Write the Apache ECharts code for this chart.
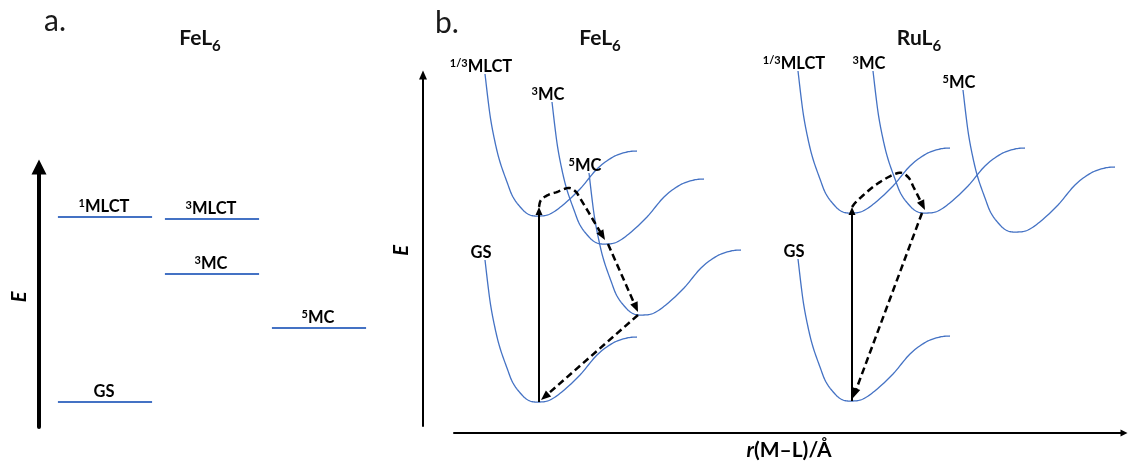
<!DOCTYPE html>
<html>
<head>
<meta charset="utf-8">
<script src="https://cdn.jsdelivr.net/npm/echarts@6/dist/echarts.min.js"></script>
<style>
  html, body { margin: 0; padding: 0; background: #fff; }
  #chart { width: 1130px; height: 461px; }
</style>
</head>
<body>
<div id="chart"></div>
<script>
// ---------- (a) FeL6 energy levels ----------
const levelColumns = ['MLCT / GS', 'triplet', 'quintet'];
const levelSpin = ['1', '', '3', '3', '5'];
const levelName = ['MLCT', 'GS', 'MLCT', 'MC', 'MC'];
const levelColumn = [0, 0, 1, 1, 2];
const levelEnergy = [210, 25, 208, 153, 99];

// ---------- (b) potential energy wells ----------
// shape of one well, relative to its minimum (dr, dE)
const wellDr = [-55, -50, -45, -40, -33, -27, -18, -10, 0, 10, 23, 40, 57, 73, 87, 97];
const wellDE = [142, 101, 74, 54, 34, 19, 7, 1, 0, 2, 11, 27, 47, 59, 64, 65];

const stateName = ['GS', 'MLCT', 'MC', 'MC'];
const stateSpin = ['', '1/3', '3', '5'];
// equilibrium distance and minimum energy of each state
const feMinR = [86, 86, 153, 190];
const feMinE = [31, 217, 189, 118];
const ruMinR = [399, 399, 474, 564];
const ruMinE = [32, 220, 220, 201];

// excitation / relaxation pathways, as (r, E) points
const feAbsorption = [[85, 31], [85, 226]];
const feToTriplet = [[85, 226], [87, 233], [94, 238], [103, 241], [114, 245], [121, 242], [126, 235], [151, 193]];
const feToQuintet = [[154, 189], [184, 121]];
const feToGround = [[184, 118], [87, 33]];
const ruAbsorption = [[398, 32], [398, 226]];
const ruToTriplet = [[398, 226], [404, 233], [423, 249], [444, 260], [454, 256], [460, 245], [471, 223]];
const ruToGround = [[468, 220], [399, 35]];

const pathways = [feAbsorption, feToTriplet, feToQuintet, feToGround, ruAbsorption, ruToTriplet, ruToGround];
const pathwayDashed = [false, true, true, true, false, true, true];

const FONT = 'Lato, "Open Sans", sans-serif';
const BLUE = '#4472C4';
const INK = '#000';

const stateRich = {
  sup: { fontFamily: FONT, fontWeight: 'bold', fontSize: 11, verticalAlign: 'top', fill: INK },
  m: { fontFamily: FONT, fontWeight: 'bold', fontSize: 16.5, fill: INK }
};
function stateText(spin, name) {
  return (spin ? '{sup|' + spin + '}' : '') + '{m|' + name + '}';
}

const formulaRich = {
  m: { fontFamily: FONT, fontWeight: 'bold', fontSize: 21, color: '#111', verticalAlign: 'top' },
  s: { fontFamily: FONT, fontWeight: 'bold', fontSize: 15, color: '#111', verticalAlign: 'bottom', lineHeight: 26 }
};
const panelLetterStyle = { fontFamily: FONT, fontSize: 30, fontWeight: 'normal', color: '#1a1a1a' };
const axisNameStyle = { fontFamily: FONT, fontWeight: 'bold', fontStyle: 'italic', fontSize: 20, color: INK };

// Catmull-Rom curve through pixel points, sampled as a dense polyline
function splinePoints(pts) {
  if (pts.length < 3) return pts.slice();
  const out = [pts[0]];
  const steps = 10;
  for (let i = 0; i < pts.length - 1; i++) {
    const p0 = pts[i - 1] || pts[i], p1 = pts[i], p2 = pts[i + 1], p3 = pts[i + 2] || pts[i + 1];
    const c1 = [p1[0] + (p2[0] - p0[0]) / 6, p1[1] + (p2[1] - p0[1]) / 6];
    const c2 = [p2[0] - (p3[0] - p1[0]) / 6, p2[1] - (p3[1] - p1[1]) / 6];
    for (let s = 1; s <= steps; s++) {
      const t = s / steps, u = 1 - t;
      const a = u * u * u, b = 3 * u * u * t, c = 3 * u * t * t, d = t * t * t;
      out.push([a * p1[0] + b * c1[0] + c * c2[0] + d * p2[0],
                a * p1[1] + b * c1[1] + c * c2[1] + d * p2[1]]);
    }
  }
  return out;
}

// horizontal level with its label
function renderLevel(params, api) {
  const i = params.dataIndex;
  const c = api.coord([api.value(0), api.value(1)]);
  const half = api.size([1, 0])[0] * 0.44;
  return {
    type: 'group',
    children: [
      { type: 'line', shape: { x1: c[0] - half, y1: c[1], x2: c[0] + half, y2: c[1] },
        style: { stroke: BLUE, lineWidth: 2 } },
      { type: 'text', x: c[0] - 1, y: c[1] - 2,
        style: { text: stateText(levelSpin[i], levelName[i]), rich: stateRich, align: 'center', verticalAlign: 'bottom' } }
    ]
  };
}

// one potential well: the common profile placed at (r_e, E_min), with its state name
function renderWell(params, api) {
  const r0 = api.value(0), e0 = api.value(1), k = api.value(2);
  const pts = wellDr.map(function (d, j) { return api.coord([r0 + d, e0 + wellDE[j]]); });
  const top = pts[0];
  return {
    type: 'group',
    children: [
      { type: 'polyline', shape: { points: splinePoints(pts) },
        style: { stroke: BLUE, fill: null, lineWidth: 1.3 } },
      { type: 'text', x: top[0] - 4, y: top[1] + 1, z2: 10,
        style: { text: stateText(stateSpin[k], stateName[k]), rich: stateRich, align: 'center', verticalAlign: 'bottom' } }
    ]
  };
}

// arrow along a pathway, head at the last point
function renderPathway(params, api) {
  const i = params.dataIndex;
  const dashed = pathwayDashed[i];
  const pts = pathways[i].map(function (p) { return api.coord(p); });
  const n = pts.length;
  const tip = pts[n - 1], prev = pts[n - 2];
  const dx = tip[0] - prev[0], dy = tip[1] - prev[1];
  const len = Math.sqrt(dx * dx + dy * dy);
  const ux = dx / len, uy = dy / len;
  const headLen = dashed ? 10 : 8;
  const headHalf = dashed ? 4 : 3.5;
  const base = [tip[0] - ux * headLen, tip[1] - uy * headLen];
  const left = [base[0] - uy * headHalf, base[1] + ux * headHalf];
  const right = [base[0] + uy * headHalf, base[1] - ux * headHalf];
  const shaft = pts.slice(0, n - 1).concat([[tip[0] - ux * (headLen - 2), tip[1] - uy * (headLen - 2)]]);
  return {
    type: 'group',
    children: [
      { type: 'polyline', shape: { points: splinePoints(shaft) },
        style: { stroke: INK, fill: null, lineWidth: dashed ? 2.5 : 2, lineDash: dashed ? [7, 4] : null } },
      { type: 'polygon', shape: { points: [tip, left, right] }, style: { fill: INK } }
    ]
  };
}

const wellData = [];
for (let k = 0; k < stateName.length; k++) {
  wellData.push([feMinR[k], feMinE[k], k]);
  wellData.push([ruMinR[k], ruMinE[k], k]);
}

const noAxisParts = {
  axisTick: { show: false }, axisLabel: { show: false }, splitLine: { show: false }
};

const chart = echarts.init(document.getElementById('chart'), null, { renderer: 'canvas' });
chart.setOption({
  animation: false,
  backgroundColor: '#fff',
  title: [
    { text: 'a.', left: 44, top: 6, padding: 0, textStyle: panelLetterStyle },
    { text: 'b.', left: 435, top: 8, padding: 0, textStyle: panelLetterStyle },
    { text: '{m|FeL}{s|6}', left: 200, top: 28, padding: 0, textAlign: 'center', textStyle: { rich: formulaRich } },
    { text: '{m|FeL}{s|6}', left: 600, top: 28, padding: 0, textAlign: 'center', textStyle: { rich: formulaRich } },
    { text: '{m|RuL}{s|6}', left: 919, top: 28, padding: 0, textAlign: 'center', textStyle: { rich: formulaRich } }
  ],
  grid: [
    { left: 51.5, width: 321, top: 167, bottom: 34, containLabel: false, outerBoundsMode: 'none' },
    { left: 454, right: 6, top: 71, bottom: 28, containLabel: false, outerBoundsMode: 'none' },
    { left: 423, width: 10, top: 75, bottom: 35, containLabel: false, outerBoundsMode: 'none' }
  ],
  xAxis: [
    Object.assign({ gridIndex: 0, type: 'category', data: levelColumns, show: false }, noAxisParts),
    Object.assign({
      gridIndex: 1, type: 'value', min: 0, max: 670,
      axisLine: { show: true, onZero: false, symbol: ['none', 'triangle'], symbolSize: [7, 7],
                  lineStyle: { color: INK, width: 2 } },
      name: '{i|r}{b|(M–L)/Å}', nameLocation: 'middle', nameGap: 7,
      nameTextStyle: { rich: {
        i: { fontFamily: FONT, fontWeight: 'bold', fontStyle: 'italic', fontSize: 21, color: INK },
        b: { fontFamily: FONT, fontWeight: 'bold', fontSize: 21, color: INK }
      } }
    }, noAxisParts),
    Object.assign({ gridIndex: 2, type: 'value', min: 0, max: 1, show: false }, noAxisParts)
  ],
  yAxis: [
    Object.assign({
      gridIndex: 0, type: 'value', min: 0, max: 260, offset: 12.5,
      axisLine: { show: true, onZero: false, symbol: ['none', 'triangle'], symbolSize: [15, 15],
                  lineStyle: { color: INK, width: 4 } },
      name: 'E', nameLocation: 'middle', nameGap: 9, nameTextStyle: axisNameStyle
    }, noAxisParts),
    Object.assign({ gridIndex: 1, type: 'value', min: 0, max: 362, show: false }, noAxisParts),
    Object.assign({
      gridIndex: 2, type: 'value', min: 0, max: 1,
      axisLine: { show: true, onZero: false, symbol: ['none', 'triangle'], symbolSize: [8, 9],
                  lineStyle: { color: INK, width: 2 } },
      name: 'E', nameLocation: 'middle', nameGap: 11, nameTextStyle: axisNameStyle
    }, noAxisParts)
  ],
  series: [
    {
      type: 'custom', xAxisIndex: 0, yAxisIndex: 0, silent: true,
      renderItem: renderLevel,
      data: levelColumn.map(function (c, i) { return [c, levelEnergy[i]]; })
    },
    {
      type: 'custom', xAxisIndex: 1, yAxisIndex: 1, silent: true, z: 3,
      renderItem: renderWell,
      data: wellData
    },
    {
      type: 'custom', xAxisIndex: 1, yAxisIndex: 1, silent: true, z: 4,
      renderItem: renderPathway,
      data: pathways.map(function (p, i) { return [p[0][0], p[0][1], i]; })
    }
  ]
});
</script>
</body>
</html>
